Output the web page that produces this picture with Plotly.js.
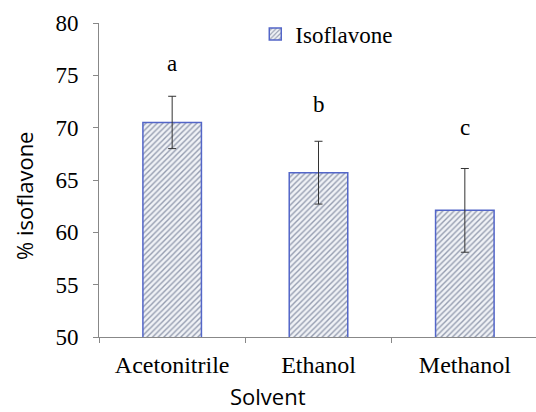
<!DOCTYPE html>
<html>
<head>
<meta charset="utf-8">
<script src="https://cdn.plot.ly/plotly-3.0.1.min.js"></script>
<style>html,body{margin:0;padding:0;background:#fff;overflow:hidden;}</style>
</head>
<body>
<div id="chart"></div>
<script>
const categories = ["Acetonitrile", "Ethanol", "Methanol"];
const values = [70.5, 65.7, 62.1];
const errors = [2.5, 3.0, 4.0];
const letters = ["a", "b", "c"];
const letterY = [76.1, 72.25, 70.05];
const yTicks = [50, 55, 60, 65, 70, 75, 80];
const xTitle = "Solvent";
const yTitle = "% isoflavone";

const serif = "'Liberation Serif', 'Times New Roman', serif";
const sans = "'Open Sans', 'Noto Sans', sans-serif";

const trace = {
  type: "bar",
  name: "Isoflavone",
  x: categories,
  y: values,
  width: 0.4,
  marker: {
    color: "#eef0f5",
    line: {color: "#5366c8", width: 1.5},
    pattern: {shape: "/", fgcolor: "#959db0", bgcolor: "#f0f2f6", size: 4, solidity: 0.35}
  },
  error_y: {type: "data", array: errors, visible: true, color: "#333333", thickness: 1, width: 4},
  showlegend: true
};

const annotations = categories.map((c, i) => ({
  x: c, y: letterY[i], xref: "x", yref: "y",
  text: letters[i], showarrow: false,
  font: {family: serif, size: 23, color: "#000"}
}));
annotations.push({
  x: 0.385, y: -0.188, xref: "paper", yref: "paper",
  xanchor: "center", yanchor: "middle",
  text: xTitle, showarrow: false,
  font: {family: sans, size: 22, color: "#000"}
});
annotations.push({
  x: -0.171, y: 0.449, xref: "paper", yref: "paper",
  xanchor: "center", yanchor: "middle", textangle: -90,
  text: yTitle, showarrow: false,
  font: {family: sans, size: 22, color: "#000"}
});

const layout = {
  width: 538, height: 412,
  margin: {l: 99, r: 0, t: 23, b: 75},
  paper_bgcolor: "#fff", plot_bgcolor: "#fff",
  showlegend: true,
  legend: {
    x: 0.356, y: 0.965, xanchor: "left", yanchor: "middle",
    font: {family: serif, size: 23, color: "#000"},
    bgcolor: "rgba(0,0,0,0)", itemwidth: 30
  },
  xaxis: {
    type: "category",
    tickson: "boundaries",
    ticks: "outside", ticklen: 5, tickcolor: "#888",
    showline: true, linecolor: "#888", linewidth: 1,
    showgrid: false, zeroline: false,
    tickfont: {family: serif, size: 24, color: "#000"},
    ticklabelstandoff: 6,
    automargin: false
  },
  yaxis: {
    range: [50, 80],
    tickvals: yTicks,
    ticktext: yTicks.map(String),
    ticks: "outside", ticklen: 5, tickcolor: "#888",
    showline: true, linecolor: "#888", linewidth: 1,
    showgrid: false, zeroline: false,
    tickfont: {family: serif, size: 23, color: "#000"},
    ticklabelstandoff: 10,
    automargin: false
  },
  annotations: annotations
};

Plotly.newPlot("chart", [trace], layout, {displayModeBar: false, staticPlot: true});
</script>
</body>
</html>
